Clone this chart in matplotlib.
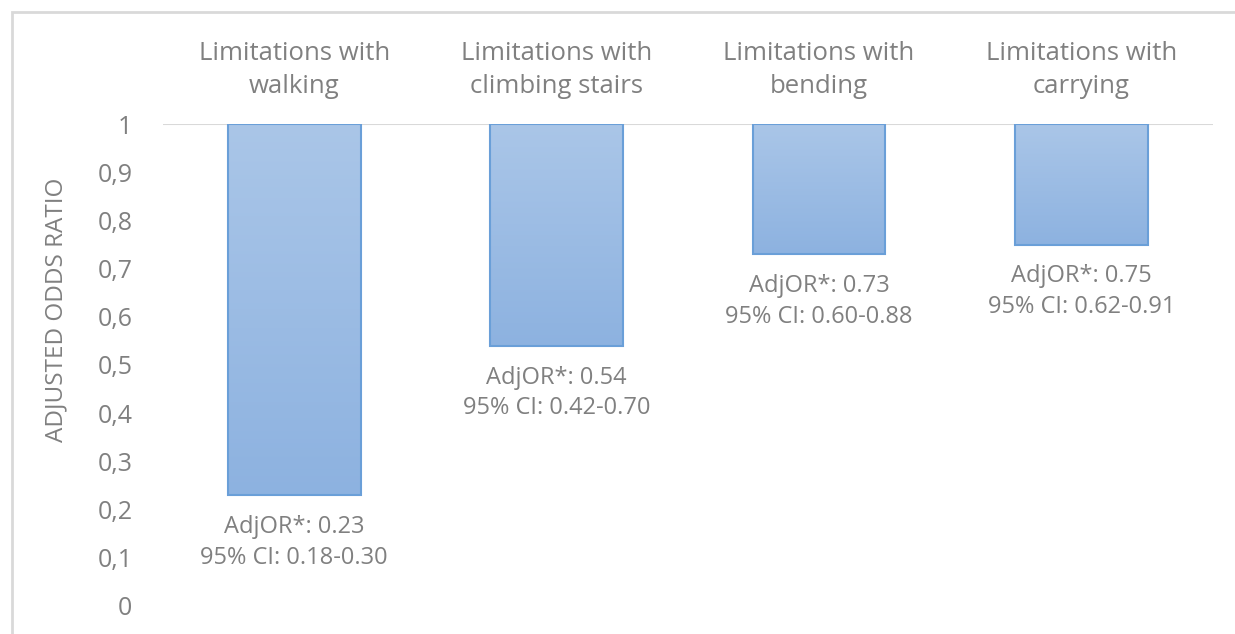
import numpy as np
import matplotlib.pyplot as plt
from matplotlib.patches import Rectangle
from matplotlib.colors import LinearSegmentedColormap

# data
categories = ['Limitations with\nwalking', 'Limitations with\nclimbing stairs',
              'Limitations with\nbending', 'Limitations with\ncarrying']
adj_or = [0.23, 0.54, 0.73, 0.75]
ci_low = [0.18, 0.42, 0.60, 0.62]
ci_high = [0.30, 0.70, 0.88, 0.91]
yticks = [0, 0.1, 0.2, 0.3, 0.4, 0.5, 0.6, 0.7, 0.8, 0.9, 1]

plt.rcParams['font.family'] = ['Open Sans', 'DejaVu Sans']
txt = '#808080'

fig = plt.figure(figsize=(12.35, 6.34), dpi=100)
ax = fig.add_axes([0.132, 0.0442, 0.85, 0.7602])

# chart frame
fig.patches.append(Rectangle((12 / 1235, -0.1), 1.2, 1 - 12 / 634 + 0.1,
                             transform=fig.transFigure, fill=False,
                             edgecolor='#d9d9d9', linewidth=2, zorder=0))

x = np.arange(len(categories))
heights = [1 - v for v in adj_or]
bars = ax.bar(x, heights, bottom=adj_or, width=0.505, color='none',
              edgecolor='#6a9fd8', linewidth=1.5, zorder=3)

# vertical gradient fill in each bar
grad = np.linspace(0, 1, 256).reshape(-1, 1)
cmap = LinearSegmentedColormap.from_list('g', ['#8db2e0', '#aac6e8'])
for b in bars:
    x0, y0 = b.get_x(), b.get_y()
    im = ax.imshow(grad, cmap=cmap, aspect='auto', origin='lower',
                   extent=[x0, x0 + b.get_width(), y0, y0 + b.get_height()],
                   zorder=2)
    im.set_clip_path(b)

ax.axhline(1, color='#d9d9d9', linewidth=1.5, zorder=1)

ax.set_xlim(-0.5, len(categories) - 0.5)
ax.set_ylim(0, 1)
ax.set_yticks(yticks)
ax.set_yticklabels([('%g' % t).replace('.', ',') for t in yticks])
ax.tick_params(axis='y', length=0, pad=22, labelsize=18, labelcolor=txt)
ax.set_xticks([])
for s in ax.spines.values():
    s.set_visible(False)
ax.set_ylabel('ADJUSTED ODDS RATIO', fontsize=17.5, color=txt)
ax.yaxis.set_label_coords(-0.09, 0.615)

for i, c in enumerate(categories):
    ax.annotate(c, (x[i], 1), xytext=(0, 39), textcoords='offset points',
                ha='center', va='center', fontsize=18.5, color=txt,
                linespacing=1.4, annotation_clip=False)
    ax.annotate('AdjOR*: %.2f\n95%% CI: %.2f-%.2f' % (adj_or[i], ci_low[i], ci_high[i]),
                (x[i], adj_or[i]), xytext=(0, -34), textcoords='offset points',
                ha='center', va='center', fontsize=17, color=txt,
                linespacing=1.36, annotation_clip=False)

fig.savefig('out.png', dpi=100)
